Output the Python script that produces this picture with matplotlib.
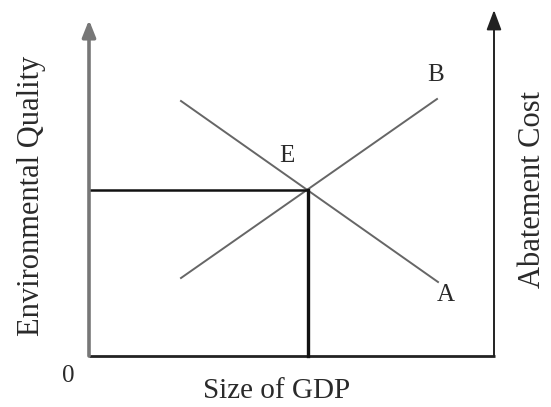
import matplotlib.pyplot as plt

# diagram in pixel-like units, origin at the corner of the axes
demand_x = [92, 349]      # falling line (E -> A)
demand_y = [255, 74]
supply_x = [92, 348]      # rising line (-> B)
supply_y = [78, 257]
eq_x, eq_y = 219, 166     # point E

labels = {"B": (347, 281), "E": (198, 200), "A": (357, 61)}

fig = plt.figure(figsize=(5.51, 4.07), dpi=100)
ax = fig.add_axes([0, 0, 1, 1])
ax.set_xlim(-89, 551 - 89)
ax.set_ylim(-(407 - 356), 356)
ax.axis("off")

txt = dict(family="Liberation Serif", color="#2a2a2a")

# axes
ax.annotate("", xy=(0, 336), xytext=(0, 0),
            arrowprops=dict(arrowstyle="-|>,head_width=0.4,head_length=1.0",
                            color="#777777", lw=2.6, shrinkA=0, shrinkB=0))
ax.annotate("", xy=(405, 346), xytext=(405, 0),
            arrowprops=dict(arrowstyle="-|>,head_width=0.45,head_length=1.2",
                            color="#222222", lw=1.4, shrinkA=0, shrinkB=0))
ax.plot([0, 406], [0, 0], color="#222222", lw=2.0, solid_capstyle="butt")

# curves
ax.plot(demand_x, demand_y, color="#666666", lw=1.4)
ax.plot(supply_x, supply_y, color="#666666", lw=1.4)

# equilibrium guides
ax.plot([0, eq_x], [eq_y, eq_y], color="#111111", lw=1.8)
ax.plot([eq_x, eq_x], [0, eq_y], color="#111111", lw=2.4)

for k, (x, y) in labels.items():
    ax.text(x, y, k, fontsize=18, ha="center", va="center", **txt)

ax.text(-21, -20, "0", fontsize=18, ha="center", va="center", **txt)
ax.text(188, -35, "Size of GDP", fontsize=21, ha="center", va="center", **txt)
ax.text(-57, 160, "Environmental Quality", fontsize=22, rotation=90,
        ha="center", va="center", **txt)
ax.text(443, 166, "Abatement Cost", fontsize=22, rotation=90,
        ha="center", va="center", **txt)

fig.savefig("out.png", dpi=100)
